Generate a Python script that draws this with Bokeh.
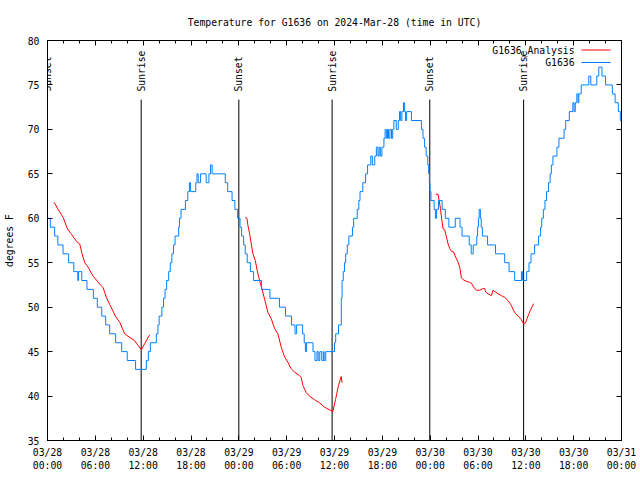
from math import pi
from bokeh.plotting import figure
from bokeh.models import (FixedTicker, LinearAxis, Label, LabelSet, BoxAnnotation,
                          ColumnDataSource, Range1d)
from bokeh.core.properties import value
from bokeh.embed import file_html
from bokeh.resources import INLINE

FONT = "DejaVu Sans Mono"
FS = "9.75px"
BLUE = "#0080ff"
RED = "#ff0000"

# ---------------- data ----------------
x_tick_hours = [0, 6, 12, 18, 24, 30, 36, 42, 48, 54, 60, 66, 72]
x_tick_labels = ["03/28\n00:00", "03/28\n06:00", "03/28\n12:00", "03/28\n18:00",
                 "03/29\n00:00", "03/29\n06:00", "03/29\n12:00", "03/29\n18:00",
                 "03/30\n00:00", "03/30\n06:00", "03/30\n12:00", "03/30\n18:00",
                 "03/31\n00:00"]
x_minor_hours = list(range(0, 73, 2))
y_ticks = [35, 40, 45, 50, 55, 60, 65, 70, 75, 80]

event_hours = [0.0, 11.75, 24.0, 35.7, 47.95, 59.72]
event_names = ["Sunset", "Sunrise", "Sunset", "Sunrise", "Sunset", "Sunrise"]

# observed G1636 (hours since 03/28 00:00 UTC, deg F)
blue_hours = [0.0, 0.35, 0.9, 1.3, 1.95, 2.65, 3.3, 3.8, 3.9, 4.3, 4.95, 5.75, 6.25, 6.8,
              7.3, 7.8, 8.55, 9.3, 10.0, 11.05, 12.4, 12.65, 12.9, 13.65, 13.85, 14.0,
              14.35, 14.55, 14.75, 14.95, 15.2, 15.4, 15.6, 15.8, 16.0, 16.45, 16.55, 16.75,
              17.3, 17.6, 17.8, 17.95, 18.6, 18.75, 18.9, 19.2, 19.9, 20.25, 20.45, 20.65,
              22.3, 22.6, 23.15, 23.5, 23.85, 24.15, 24.35, 24.6, 24.8, 25.05, 25.45, 25.85,
              26.85, 27.9, 29.1, 29.85, 30.6, 31.05, 31.25, 32.0, 32.2, 32.35, 32.5, 33.3,
              33.55, 33.8, 33.95, 34.15, 34.4, 34.6, 34.7, 34.9, 36.0, 36.15, 36.5, 36.85,
              36.95, 37.1, 37.25, 37.4, 37.6, 37.8, 38.25, 38.4, 38.85, 39.05, 39.2, 39.55,
              39.9, 40.15, 40.55, 40.75, 41.05, 41.25, 41.45, 41.6, 41.75, 41.95, 42.2,
              42.35, 42.5, 42.65, 42.78, 42.95, 43.15, 43.3, 43.45, 43.75, 44.0, 44.15,
              44.3, 44.45, 44.65, 44.8, 44.9, 45.05, 45.65, 46.9, 47.1, 47.3, 47.5, 47.7,
              47.82, 47.9, 47.97, 48.1, 48.5, 48.65, 48.8, 49.05, 49.5, 49.9, 50.35, 51.15,
              51.75, 52.0, 52.9, 53.15, 53.4, 53.85, 53.95, 54.05, 54.15, 54.3, 54.4, 54.55,
              55.2, 56.2, 57.35, 57.9, 58.6, 59.45, 59.6, 60.1, 60.4, 60.65, 61.1, 61.6,
              61.85, 62.0, 62.2, 62.4, 62.6, 62.85, 63.05, 63.2, 63.4, 63.9, 64.15, 64.8,
              65.0, 65.45, 65.9, 66.05, 66.2, 66.4, 66.55, 66.65, 66.95, 67.9, 68.15, 68.9,
              69.15, 69.55, 70.0, 70.85, 71.2, 71.6, 71.85, 72.0]
blue_temps = [60, 59, 58, 57, 56, 55, 54, 53, 54, 53, 52, 51, 50, 49,
              48, 47, 46, 45, 44, 43, 44, 45, 46, 47, 48, 49,
              50, 51, 52, 53, 54, 55, 56, 57, 58, 59, 60, 61,
              62, 63, 64, 63, 64, 65, 64, 65, 64, 65, 66, 65,
              64, 63, 62, 61, 60, 59, 58, 57, 56, 55, 54, 53,
              52, 51, 50, 49, 48, 47, 48, 47, 46, 45, 46, 45,
              44, 45, 44, 45, 44, 45, 44, 45, 46, 47, 48, 51,
              53, 54, 55, 56, 57, 58, 59, 60, 61, 62, 63, 64,
              65, 66, 67, 66, 67, 68, 67, 68, 67, 68, 69,
              70, 69, 70, 69, 70, 69, 70, 71, 70, 71, 72,
              71, 72, 73, 72, 71, 72, 71, 70, 69, 68, 67, 66,
              65, 64, 63, 62, 61, 60, 61, 62, 61, 60, 59, 60,
              59, 58, 57, 56, 57, 58, 59, 60, 61, 60, 59, 58,
              57, 56, 55, 54, 53, 54, 53, 54, 55, 56, 57, 58,
              59, 60, 61, 62, 63, 64, 65, 66, 67, 68, 69, 70,
              71, 72, 73, 72, 73, 74, 73, 74, 75, 76, 75, 76,
              77, 76, 75, 74, 73, 72, 71, 71]

# G1636_Analysis, three pieces
anal_a_hours = [0.83, 1.33, 1.96, 2.5, 3.0, 3.63, 4.05, 4.34, 4.67, 5.09, 5.72, 6.55, 6.97,
                7.39, 7.8, 8.2, 8.5, 9.06, 9.68, 10.3, 10.85, 11.36, 11.78, 12.19, 12.82]
anal_a_temps = [61.8, 61.0, 60.1, 58.8, 58.2, 57.4, 57.1, 56.0, 55.0, 54.5, 53.5, 52.6, 52.2,
                51.1, 50.3, 49.6, 49.0, 48.3, 47.0, 46.6, 46.3, 45.7, 45.2, 45.9, 46.9]
anal_b_hours = [24.81, 25.02, 25.14, 25.35, 25.56, 25.77, 26.06, 26.31, 26.6, 26.9, 27.23,
                27.65, 28.07, 28.48, 28.9, 29.32, 29.74, 30.15, 30.57, 30.99, 31.61, 31.82,
                32.03, 32.45, 32.87, 33.49, 34.12, 34.75, 35.38, 35.79, 36.13, 36.5, 36.84,
                36.95]
anal_b_temps = [60.1, 60.0, 59.2, 58.25, 57.1, 56.0, 55.25, 54.1, 53.0, 52.06, 50.9,
                49.4, 48.7, 47.6, 47.0, 45.5, 44.4, 43.8, 43.07, 42.7, 42.3, 42.1,
                41.2, 40.4, 39.98, 39.6, 39.24, 38.75, 38.45, 38.26, 39.6, 41.2, 42.2,
                41.5]
anal_c_hours = [48.7, 48.99, 49.12, 49.29, 49.45, 49.62, 49.83, 50.04, 50.25, 50.45, 50.66,
                50.96, 51.21, 51.5, 51.71, 51.92, 52.13, 52.55, 52.96, 53.17, 53.46, 53.8,
                54.21, 54.55, 54.84, 54.97, 55.26, 55.68, 55.89, 56.22, 56.51, 56.93, 57.35,
                57.76, 58.18, 58.47, 58.72, 59.14, 59.43, 59.73, 59.94, 60.15, 60.4, 60.7,
                60.98]
anal_c_temps = [62.7, 62.7, 62.0, 61.1, 59.9, 58.8, 58.7, 57.9, 57.1, 56.6, 56.3,
                56.2, 55.6, 55.06, 54.5, 53.3, 53.1, 52.9, 52.8, 52.7, 52.25, 51.9,
                51.9, 52.06, 52.1, 51.7, 51.5, 51.3, 51.9, 51.7, 51.5, 51.3, 51.1,
                50.75, 50.2, 49.6, 49.25, 48.9, 48.6, 48.1, 48.2, 48.7, 49.3, 49.9,
                50.4]

title_text = "Temperature for G1636 on 2024-Mar-28 (time in UTC)"
y_label_text = "degrees F"
series_names = ["G1636_Analysis", "G1636"]

# ---------------- styling constants ----------------
EVENT_LINE_TOP = 73.35
EVENT_LABEL_Y = 74.25
Y_MIN, Y_MAX = 35, 80

p = figure(width=640, height=480, x_range=Range1d(0, 72), y_range=Range1d(Y_MIN, Y_MAX),
           output_backend="svg", toolbar_location=None,
           min_border_left=47, min_border_right=19, min_border_top=40, min_border_bottom=40)
p.outline_line_color = "black"
p.outline_line_width = 1
p.grid.visible = False
p.background_fill_color = "white"
p.border_fill_color = "white"

p.title.text = title_text
p.title.align = "center"
p.title.text_font = FONT
p.title.text_font_size = FS
p.title.text_font_style = "normal"
p.title.text_color = "black"
p.title.standoff = 26

xt = FixedTicker(ticks=x_tick_hours, minor_ticks=x_minor_hours)
yt = FixedTicker(ticks=y_ticks, minor_ticks=[])


def style_axis(ax, show_labels, standoff):
    ax.axis_line_color = "black"
    ax.major_tick_line_color = "black"
    ax.minor_tick_line_color = "black"
    ax.major_tick_in = 5
    ax.major_tick_out = 0
    ax.minor_tick_in = 3
    ax.minor_tick_out = 0
    ax.major_label_text_font = FONT
    ax.major_label_text_font_size = FS if show_labels else "1px"
    ax.major_label_text_color = "black" if show_labels else None
    ax.major_label_standoff = standoff


xa = p.xaxis[0]
xa.ticker = xt
xa.major_label_overrides = dict(zip(x_tick_hours, x_tick_labels))
style_axis(xa, True, 6)

ya = p.yaxis[0]
ya.ticker = yt
style_axis(ya, True, 8)
ya.axis_label = y_label_text
ya.axis_label_text_font = FONT
ya.axis_label_text_font_size = FS
ya.axis_label_text_font_style = "normal"
ya.axis_label_text_color = "black"
ya.axis_label_standoff = 10

top_axis = LinearAxis(ticker=xt)
style_axis(top_axis, False, 0)
p.add_layout(top_axis, "above")

right_axis = LinearAxis(ticker=yt)
style_axis(right_axis, False, 0)
p.add_layout(right_axis, "right")

# sunrise / sunset markers
ev_src = ColumnDataSource(dict(t=event_hours, name=event_names,
                               top=[EVENT_LINE_TOP] * len(event_hours),
                               bot=[Y_MIN] * len(event_hours),
                               ly=[EVENT_LABEL_Y] * len(event_hours)))
p.segment(x0="t", y0="top", x1="t", y1="bot", source=ev_src, line_color="black", line_width=1)
p.add_layout(LabelSet(x="t", y="ly", text="name", source=ev_src, angle=pi / 2,
                      text_align="left", text_baseline="middle",
                      text_font=value(FONT), text_font_size=value(FS), text_color="black"))

# series
for hrs, tmp in [(anal_a_hours, anal_a_temps), (anal_b_hours, anal_b_temps),
                 (anal_c_hours, anal_c_temps)]:
    p.line(hrs, tmp, line_color=RED, line_width=1)
p.step(blue_hours, blue_temps, mode="after", line_color=BLUE, line_width=1)

# legend (text right, sample line after it)
for name, col, ly in [(series_names[0], RED, 390.5), (series_names[1], BLUE, 378)]:
    p.add_layout(Label(x=527, y=ly, x_units="screen", y_units="screen", text=name,
                       text_align="right", text_baseline="middle", text_font=FONT,
                       text_font_size=FS, text_color="black"))
    p.add_layout(BoxAnnotation(left=534, right=563, bottom=ly - 0.5, top=ly + 0.5,
                               left_units="screen", right_units="screen",
                               top_units="screen", bottom_units="screen",
                               fill_color=col, fill_alpha=1, line_color=None))

open("out.html", "w").write(file_html(p, INLINE))
